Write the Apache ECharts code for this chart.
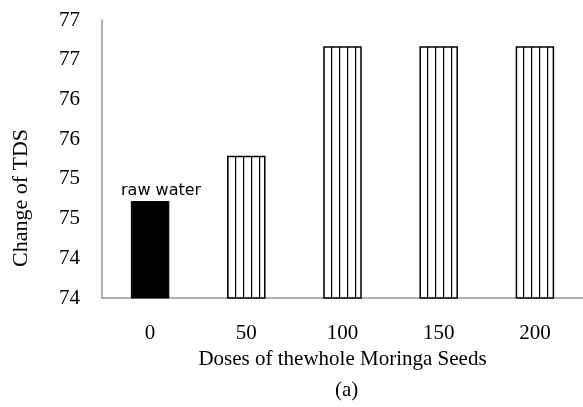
<!DOCTYPE html>
<html>
<head>
<meta charset="utf-8">
<script src="https://cdn.jsdelivr.net/npm/echarts@6/dist/echarts.min.js"></script>
<style>html,body{margin:0;padding:0;background:#fff}#c{width:583px;height:407px}</style>
</head>
<body>
<div id="c"></div>
<script>
const categories = ['0', '50', '100', '150', '200'];
const tdsValues = [75.22, 75.79, 77.17, 77.17, 77.17];
const yTickLabels = ['74', '74', '75', '75', '76', '76', '77', '77'];
const rawLabel = 'raw water';

const pc = document.createElement('canvas');
pc.width = 8; pc.height = 8;
const g = pc.getContext('2d');
g.fillStyle = '#fff'; g.fillRect(0, 0, 8, 8);
g.fillStyle = '#000'; g.fillRect(3, 0, 1.2, 8);
const stripes = { image: pc, repeat: 'repeat' };

const data = tdsValues.map((v, i) => i === 0
  ? { value: v, itemStyle: { color: '#000', borderColor: '#000', borderWidth: 1 },
      label: { show: true, position: 'top', formatter: rawLabel, offset: [11, 0], distance: 2,
               fontFamily: 'DejaVu Sans', fontSize: 16, color: '#000' } }
  : { value: v, itemStyle: { color: stripes, borderColor: '#000', borderWidth: 1.5 } });

const serif = 'Liberation Serif';
const chart = echarts.init(document.getElementById('c'), null, { renderer: 'canvas' });
chart.setOption({
  animation: false,
  title: { text: '(a)', left: 335, top: 380, padding: 0, textStyle: { fontFamily: serif, fontSize: 21, fontWeight: 'normal', color: '#000' } },
  grid: { left: 102, top: 20, width: 486, height: 278 },
  xAxis: {
    type: 'category', data: categories,
    name: 'Doses of thewhole Moringa Seeds', nameLocation: 'middle', nameGap: 46,
    nameTextStyle: { fontFamily: serif, fontSize: 21, color: '#000' },
    axisLine: { lineStyle: { color: '#999', width: 1.5 } },
    axisTick: { show: false },
    axisLabel: { margin: 25, fontFamily: serif, fontSize: 21, color: '#000' }
  },
  yAxis: {
    type: 'value', min: 74, max: 77.5, interval: 0.5,
    name: 'Change of TDS', nameLocation: 'middle', nameRotate: 90, nameGap: 70,
    nameTextStyle: { fontFamily: serif, fontSize: 22, color: '#000', padding: [0, 78, 0, 0] },
    axisLine: { show: true, lineStyle: { color: '#999', width: 1.5 } },
    axisTick: { show: false },
    splitLine: { show: false },
    axisLabel: { margin: 22, fontFamily: serif, fontSize: 21, color: '#000',
      formatter: v => yTickLabels[Math.round((v - 74) / 0.5)] }
  },
  series: [{ type: 'bar', data: data, barWidth: '40%' }]
});
</script>
</body>
</html>
